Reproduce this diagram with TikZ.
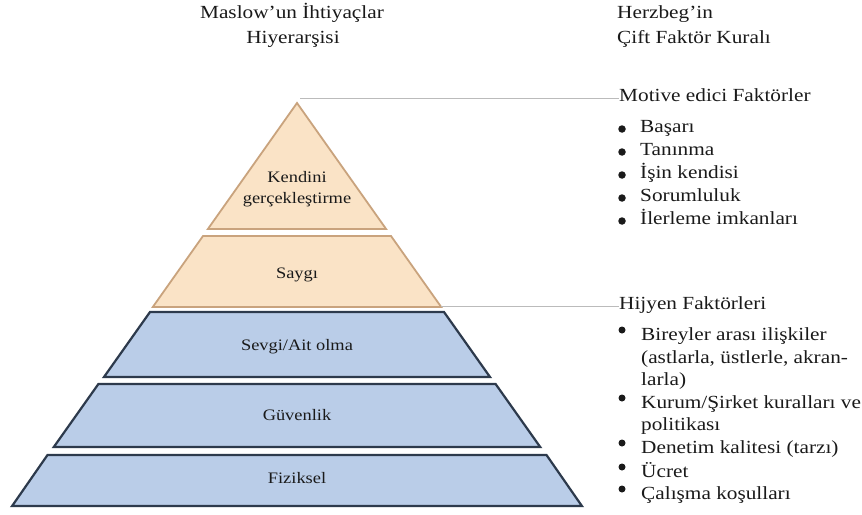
\documentclass[tikz,border=0pt]{standalone}
\usepackage{fontspec}
\setmainfont{Liberation Serif}[FakeStretch=1.15]
\definecolor{tanfill}{HTML}{FAE3C6}
\definecolor{tanline}{HTML}{C9A37D}
\definecolor{bluefill}{HTML}{BACDE8}
\definecolor{blueline}{HTML}{2D3A4C}
\definecolor{txt}{HTML}{1A1A1A}
\definecolor{conn}{HTML}{BBBBBB}
\tikzset{
  tanlayer/.style={fill=tanfill,draw=tanline,line width=1.8pt,line join=miter},
  bluelayer/.style={fill=bluefill,draw=blueline,line width=2.2pt,line join=miter},
  lbl/.style={font=\fontsize{16}{19}\selectfont,text=txt,inner sep=0pt,anchor=base},
  hdr/.style={font=\fontsize{18.5}{23}\selectfont,text=txt,inner sep=0pt,anchor=base west},
  hdrc/.style={font=\fontsize{18.5}{23}\selectfont,text=txt,inner sep=0pt,anchor=base},
  dotA/.style={circle,fill=txt,inner sep=0pt,minimum size=7.5pt},
  dotB/.style={circle,fill=txt,inner sep=0pt,minimum size=7pt},
  conline/.style={draw=conn,line width=1pt}
}
\begin{document}
\begin{tikzpicture}[x=1pt,y=-1pt]
\useasboundingbox (0,0) rectangle (862,514);
\fill[white] (0,0) rectangle (862,514);

% pyramid layers
\draw[tanlayer] (297,103) -- (386.1,229) -- (207.9,229) -- cycle;
\draw[tanlayer] (203,236) -- (391,236) -- (441.2,307) -- (152.8,307) -- cycle;
\draw[bluelayer] (150,312) -- (444,312) -- (490,377) -- (104,377) -- cycle;
\draw[bluelayer] (98.4,384) -- (495.6,384) -- (540.2,447) -- (53.8,447) -- cycle;
\draw[bluelayer] (47.5,455) -- (546.5,455) -- (581.9,506) -- (12.1,506) -- cycle;

% layer labels
\node[lbl] (k1) at (297,182) {Kendini};
\node[lbl] (k2) at (297,203) {gerçekleştirme};
\node[lbl] (s) at (297,278) {Saygı};
\node[lbl] (sv) at (297,350) {Sevgi/Ait olma};
\node[lbl] (g) at (297,420) {Güvenlik};
\node[lbl] (f) at (297,483) {Fiziksel};

% headers
\node[hdrc] (m1) at (292,19) {Maslow’un İhtiyaçlar};
\node[hdrc] (m2) at (293,43) {Hiyerarşisi};
\node[hdr] (h1) at (617,19) {Herzbeg’in};
\node[hdr] (h2) at (617,43) {Çift Faktör Kuralı};

% right column
\coordinate (apex) at (300,98);
\coordinate (saygir) at (441,306);
\node[hdr] (mot) at (619,101) {Motive edici Faktörler};
\node[hdr] (hij) at (619,309) {Hijyen Faktörleri};
\draw[conline] (apex) -- (mot.west |- apex);
\draw[conline] (saygir) -- (hij.west |- saygir);

\node[dotA] (ba) at (622,129) {};
\node[hdr] (a1) at (640,132) {Başarı};
\node[dotA] (bb) at (622,152) {};
\node[hdr] (a2) at (640,155) {Tanınma};
\node[dotA] (bc) at (622,175) {};
\node[hdr] (a3) at (640,178) {İşin kendisi};
\node[dotA] (bd) at (622,198) {};
\node[hdr] (a4) at (640,201) {Sorumluluk};
\node[dotA] (be) at (622,221) {};
\node[hdr] (a5) at (640,224) {İlerleme imkanları};

\node[dotB] (ca) at (622,330) {};
\node[hdr] (c1) at (641,340) {Bireyler arası ilişkiler};
\node[hdr] (c1b) at (641,363) {(astlarla, üstlerle, akran-};
\node[hdr] (c1c) at (641,385) {larla)};
\node[dotB] (cb) at (622,398) {};
\node[hdr] (c2) at (641,408) {Kurum/Şirket kuralları ve};
\node[hdr] (c2b) at (641,430) {politikası};
\node[dotB] (cc) at (622,443) {};
\node[hdr] (c3) at (641,453) {Denetim kalitesi (tarzı)};
\node[dotB] (cd) at (622,467) {};
\node[hdr] (c4) at (641,477) {Ücret};
\node[dotB] (ce) at (622,489) {};
\node[hdr] (c5) at (641,499) {Çalışma koşulları};
\end{tikzpicture}
\end{document}
